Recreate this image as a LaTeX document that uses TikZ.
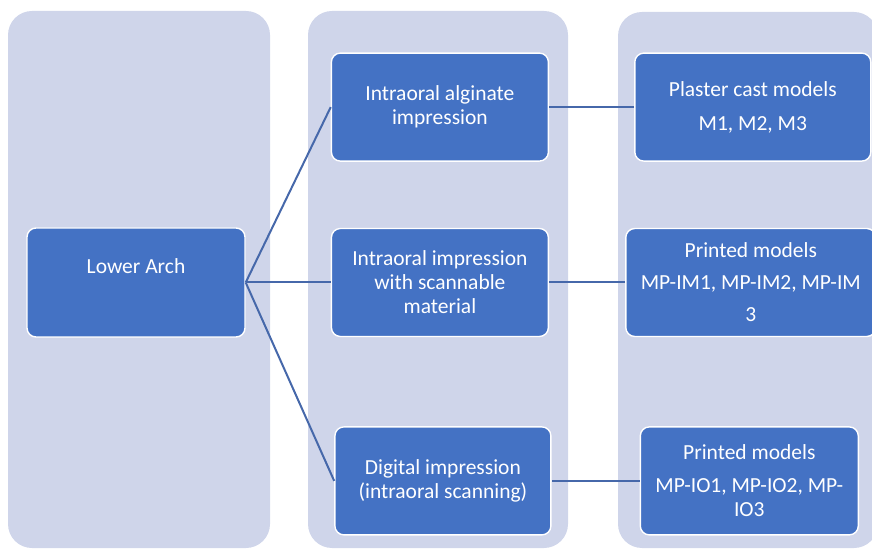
\documentclass[tikz,border=0pt]{standalone}
\usepackage{fontspec}
\setmainfont{Carlito}
\usetikzlibrary{positioning}
\definecolor{panelblue}{RGB}{207,213,234}
\definecolor{boxblue}{RGB}{68,114,196}
\definecolor{lineblue}{RGB}{70,104,170}
\tikzset{panel/.style={fill=panelblue,rounded corners=24pt}}
\tikzset{stepbox/.style={rectangle,rounded corners=9pt,draw=white,fill=boxblue,line width=1.4pt,text=white,align=center,minimum height=108pt,font=\fontsize{21.5}{24}\selectfont}}
\tikzset{link/.style={draw=lineblue,line width=2pt}}

\begin{document}
\begin{tikzpicture}[x=1pt,y=1pt]
\useasboundingbox (0,0) rectangle (872,549);
% background columns
\fill[panel] (8,1) rectangle (270,538);
\fill[panel] (308,1) rectangle (568,538);
\fill[panel] (618,1) rectangle (878,537);
\begin{scope}[node distance=85pt]
	\node (arch) [stepbox, minimum width=218pt, minimum height=109pt, text depth=32pt] at (136,266.5) {Lower Arch};
	\node (scan) [stepbox, minimum width=217pt, right =of arch] {Intraoral impression\\with scannable\\material} edge [link] (arch);
	\node (alg) [stepbox, minimum width=217pt, above =66pt of scan] {Intraoral alginate\\impression};
	\node (dig) [stepbox, minimum width=216pt, below =89pt of scan, xshift=3pt] {Digital impression\\(intraoral scanning)};
	\node (plaster) [stepbox, minimum width=236pt, right =of alg] {Plaster cast models\\[10pt]M1, M2, M3} edge [link] (alg);
	\node (printim) [stepbox, minimum width=250pt, right =76pt of scan] {Printed models\\[8pt]MP-IM1, MP-IM2, MP-IM\\[8pt]3} edge [link] (scan);
	\node (printio) [stepbox, minimum width=218pt, right =88pt of dig] {Printed models\\[9pt]MP-IO1, MP-IO2, MP-\\IO3} edge [link] (dig);
\end{scope}
\draw [link] (arch.east) -- (alg.west);
\draw [link] (arch.east) -- (dig.west);
\end{tikzpicture}
\end{document}
